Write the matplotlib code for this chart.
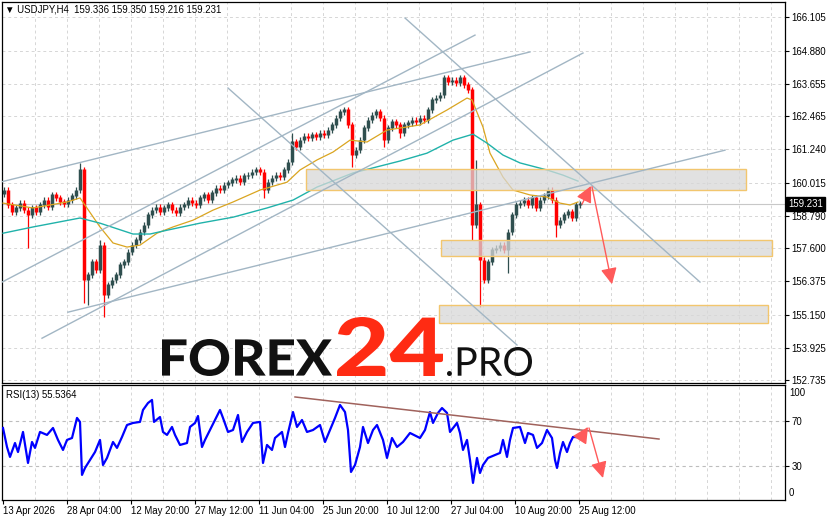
import matplotlib
matplotlib.use('Agg')
import matplotlib.pyplot as plt
from matplotlib.textpath import TextPath
from matplotlib.patches import PathPatch, Rectangle
from matplotlib.font_manager import FontProperties
from matplotlib.transforms import Affine2D

plt.rcParams['font.family'] = ['Liberation Sans', 'DejaVu Sans']

W, H = 831, 521

# один бар H4 = один пиксель по X; цены закрытия сняты каждые 4 бара
bar_x = list(range(4, 581, 4))
first_open = 159.60
closes = [
    159.74, 159.19, 158.93, 159.08, 159.26, 159.00, 158.82, 159.08, 158.93, 159.19,
    159.37, 159.11, 159.56, 159.45, 159.30, 159.22, 159.37, 159.52, 159.74, 160.48,
    156.42, 156.61, 157.09, 156.79, 157.71, 155.87, 156.24, 156.42, 156.61, 156.98,
    157.09, 157.45, 157.71, 157.90, 158.19, 158.45, 158.82, 159.00, 159.11, 158.93,
    159.08, 159.19, 159.00, 158.89, 159.11, 159.19, 159.37, 159.26, 159.19, 159.45,
    159.56, 159.37, 159.63, 159.81, 159.74, 159.92, 160.00, 160.11, 160.18, 160.03,
    160.26, 160.29, 160.40, 160.48, 160.40, 159.74, 160.03, 160.18, 160.29, 160.22,
    160.48, 160.77, 161.51, 161.32, 161.58, 161.73, 161.66, 161.77, 161.69, 161.84,
    161.77, 161.95, 162.14, 162.39, 162.62, 162.69, 162.14, 161.03, 161.21, 161.58,
    162.03, 162.32, 162.50, 162.62, 162.39, 161.58, 162.03, 162.25, 162.14, 161.84,
    162.14, 162.21, 162.32, 162.25, 162.39, 162.32, 162.69, 163.06, 163.13, 163.24,
    163.87, 163.72, 163.79, 163.68, 163.87, 163.61, 163.43, 158.45, 159.19, 157.16,
    156.42, 157.09, 157.53, 157.60, 157.71, 157.53, 158.19, 158.82, 159.19, 159.26,
    159.37, 159.19, 159.45, 159.08, 159.37, 159.52, 159.74, 159.37, 158.45, 158.63,
    158.82, 158.93, 158.71, 159.19, 159.23,
]
# заметные тени свечей
spike_x = [28, 80, 84, 88, 100, 104, 264, 292, 344, 352, 384, 400, 444, 472, 476, 480, 508, 556]
spike_px = [157.60, 160.73, 155.57, 155.50, 157.90, 155.06, 159.45, 161.84, 162.80, 160.59,
            161.32, 161.66, 163.98, 157.90, 160.85, 155.43, 156.68, 158.01]

# скользящие средние
ma_fast_x = [3, 33, 67, 80, 100, 113, 127, 140, 157, 173, 193, 213, 233, 260, 287, 300, 317,
             333, 350, 367, 387, 420, 447, 467, 472, 483, 490, 503, 513, 530, 547, 560, 570, 578]
ma_fast = [159.26, 159.08, 159.30, 159.45, 158.38, 157.79, 157.64, 157.71, 158.15, 158.38,
           158.63, 159.00, 159.30, 159.74, 160.03, 160.48, 160.85, 161.14, 161.58, 161.51,
           161.95, 162.14, 162.69, 163.13, 163.06, 162.06, 161.10, 160.22, 159.74, 159.56,
           159.48, 159.26, 159.19, 159.30]
ma_slow_x = [3, 33, 80, 100, 133, 150, 167, 200, 233, 267, 293, 317, 353, 400, 427, 453, 473,
             487, 503, 520, 547, 563, 578]
ma_slow = [158.15, 158.38, 158.71, 158.52, 158.12, 158.12, 158.26, 158.52, 158.74, 159.08,
           159.37, 159.85, 160.37, 160.81, 161.10, 161.58, 161.80, 161.47, 161.03, 160.74,
           160.48, 160.29, 160.07]

# RSI(13)
rsi_x = [3, 7, 10, 15, 18, 23, 28, 32, 35, 40, 47, 53, 58, 63, 67, 72, 77, 80, 82, 85,
         90, 95, 100, 103, 107, 113, 117, 122, 127, 133, 140, 143, 148, 152, 154, 160, 163, 167,
         172, 175, 180, 187, 190, 195, 198, 202, 205, 210, 215, 220, 223, 228, 233, 238, 242,
         247, 253, 260, 263, 267, 272, 275, 282, 285, 288, 293, 297, 302, 307, 313, 320, 325,
         330, 335, 340, 345, 348, 351, 355, 360, 363, 368, 373, 377, 383, 387, 392, 397, 403,
         410, 420, 425, 430, 433, 438, 442, 447, 450, 457, 460, 463, 467, 470, 473, 477, 480,
         483, 488, 495, 500, 503, 507, 510, 513, 520, 525, 528, 533, 537, 542, 547, 552, 555,
         557, 560, 563, 567, 570, 573, 578]
rsi_vals = [63.6, 46.9, 38.2, 50.4, 42.5, 60.1, 32.9, 51.3, 46.1, 60.1, 57.5, 63.6, 53.1, 44.3,
            53.1, 54.8, 72.4, 68.9, 22.4, 28.5, 35.5, 42.5, 53.1, 31.1, 37.3, 51.3, 46.1, 55.7,
            66.2, 68.0, 68.9, 79.4, 85.5, 88.2, 68.9, 73.2, 60.1, 57.5, 64.5, 57.5, 48.7, 50.4,
            64.5, 68.0, 74.1, 46.9, 53.1, 61.8, 70.6, 79.4, 72.4, 60.1, 61.8, 75.0, 51.3, 60.1,
            68.0, 68.9, 32.9, 48.7, 44.3, 54.8, 60.1, 46.9, 59.2, 77.6, 64.5, 70.6, 60.1, 61.8,
            66.2, 51.3, 61.8, 72.4, 83.8, 77.6, 61.8, 25.0, 31.1, 46.9, 64.5, 50.4, 61.8, 66.2,
            53.1, 37.3, 54.8, 46.9, 51.3, 59.2, 54.8, 61.8, 77.6, 68.0, 76.8, 81.1, 76.8, 60.1,
            68.0, 59.2, 44.3, 53.1, 35.5, 15.4, 37.3, 24.1, 31.1, 37.3, 39.9, 41.7, 53.1, 38.2,
            53.1, 63.6, 64.5, 50.4, 59.2, 57.5, 46.1, 50.4, 61.8, 54.8, 35.5, 28.5, 41.7, 51.3,
            42.5, 50.4, 55.7, 55.5]

# оси
price_ticks = [166.105, 164.880, 163.655, 162.465, 161.240, 160.015, 158.790,
               157.600, 156.375, 155.150, 153.925, 152.735]
date_ticks = [3, 67, 131, 195, 259, 323, 387, 451, 515, 579]
date_labels = ['13 Apr 2026', '28 Apr 04:00', '12 May 20:00', '27 May 12:00', '11 Jun 04:00',
               '25 Jun 20:00', '10 Jul 12:00', '27 Jul 04:00', '10 Aug 20:00', '25 Aug 12:00']
last_price = 159.231

# разметка: зоны и трендовые линии
zone_x0 = [306, 441, 439]
zone_x1 = [746, 772, 768]
zone_lo = [159.74, 157.31, 154.84]
zone_hi = [160.51, 157.90, 155.50]
tl_x0 = [0, 0, 42, 68, 228, 405]
tl_p0 = [160.03, 156.31, 154.28, 155.24, 163.50, 166.08]
tl_x1 = [530, 475, 583, 725, 517, 700]
tl_p1 = [164.83, 165.45, 164.79, 161.21, 154.03, 156.35]

BULL = '#2F4F4F'
BEAR = '#FF0000'
TL = '#A2B6C4'
ARROW = '#FF5A5A'
GRID = '#D6D6D6'
FS = 6.9

fig = plt.figure(figsize=(W / 100, H / 100), dpi=100)
ax = fig.add_axes([2 / W, 1 - 383 / H, 783 / W, 381 / H])
rax = fig.add_axes([2 / W, 1 - 500 / H, 783 / W, 115 / H])

for a in (ax, rax):
    a.set_xlim(2, 785)
    for s in a.spines.values():
        s.set_linewidth(0.9)
        s.set_color('black')
    for gx in range(35, 785, 32):
        a.axvline(gx, color=GRID, lw=0.7, ls=(0, (3, 3)), zorder=0)

ax.set_ylim(152.63, 166.67)
for p in price_ticks:
    ax.axhline(p, color=GRID, lw=0.7, ls=(0, (3, 3)), zorder=0)
ax.yaxis.tick_right()
ax.set_yticks(price_ticks)
ax.set_yticklabels([f'{p:.3f}' for p in price_ticks])
ax.tick_params(axis='y', length=3, width=0.8, pad=1.5, labelsize=FS)
ax.set_xticks([])

# текущая цена
ax.axhline(last_price, color='#C8C8C8', lw=0.8, zorder=1)
ax.text(788, last_price, f'{last_price:.3f}', color='white', fontsize=FS, va='center',
        ha='left', clip_on=False,
        bbox=dict(boxstyle='square,pad=0.18', fc='black', ec='black'))

# водяной знак FOREX24.PRO
def fit_word(target, s, box, color, weight, family='Lato'):
    fp = FontProperties(family=family, weight=weight)
    tp = TextPath((0, 0), s, prop=fp, size=100)
    ext = tp.get_extents()
    x0, y0, x1, y1 = box
    tr = (Affine2D().translate(-ext.x0, -ext.y0)
          .scale((x1 - x0) / ext.width, (y1 - y0) / ext.height)
          .translate(x0, H - y1))
    patch = PathPatch(tp, transform=tr, facecolor=color, edgecolor='none', zorder=1.5)
    target.add_patch(patch)

fit_word(ax, 'FOREX', (162, 339, 332, 376), '#111111', 'black')
fit_word(ax, '24', (337, 317, 443, 376), '#FF2B13', 'black')
fit_word(ax, '.PRO', (447, 347, 532, 376), '#111111', 'normal')

# свечи
opens = [first_open] + closes[:-1]
spikes = dict(zip(spike_x, spike_px))
for x, o, c in zip(bar_x, opens, closes):
    hi = max(o, c) + 0.12
    lo = min(o, c) - 0.12
    if x in spikes:
        hi = max(hi, spikes[x])
        lo = min(lo, spikes[x])
    col = BULL if c >= o else BEAR
    ax.vlines(x, lo, hi, color=col, lw=0.9, zorder=2)
    ax.vlines(x, min(o, c), max(o, c) + 0.02, color=col, lw=2.5, zorder=2)

ax.plot(ma_fast_x, ma_fast, color='#DAA520', lw=0.9, zorder=3)
ax.plot(ma_slow_x, ma_slow, color='#20B2AA', lw=1.0, zorder=3)

for x0, x1, lo, hi in zip(zone_x0, zone_x1, zone_lo, zone_hi):
    ax.add_patch(Rectangle((x0, lo), x1 - x0, hi - lo, facecolor='#D8D8D8', alpha=0.75,
                           edgecolor='none', zorder=4))
    ax.add_patch(Rectangle((x0, lo), x1 - x0, hi - lo, facecolor='none',
                           edgecolor='#F2C66E', lw=1.0, zorder=4))

for x0, p0, x1, p1 in zip(tl_x0, tl_p0, tl_x1, tl_p1):
    ax.plot([x0, x1], [p0, p1], color=TL, lw=1.0, zorder=5)

arrow = dict(arrowstyle='-|>,head_length=0.7,head_width=0.35', color=ARROW, lw=1.0,
             shrinkA=0, shrinkB=0, mutation_scale=14)
ax.annotate('', xy=(591, 159.89), xytext=(582, 159.22), arrowprops=arrow, zorder=6)
ax.annotate('', xy=(612, 156.27), xytext=(592, 159.86), arrowprops=arrow, zorder=6)

fig.text(5 / W, 1 - 9 / H, '\u25bc USDJPY,H4  159.336 159.350 159.216 159.231',
         fontsize=FS, va='center', ha='left')

# панель RSI
rax.set_ylim(0.4, 101.3)
for lv in (70, 30):
    rax.axhline(lv, color='#BDBDBD', lw=0.8, ls=(0, (3, 3)), zorder=0)
rax.plot(rsi_x, rsi_vals, color='#0000FF', lw=1.6, zorder=3)
rax.plot([295, 659], [90.8, 53.9], color='#A0625C', lw=1.1, zorder=4)
rax.annotate('', xy=(588, 64.5), xytext=(581, 54.8), arrowprops=arrow, zorder=6)
rax.annotate('', xy=(603, 19.7), xytext=(589, 63.6), arrowprops=arrow, zorder=6)
rax.yaxis.tick_right()
rax.set_yticks([70, 30])
rax.set_yticklabels(['70', '30'])
rax.tick_params(axis='y', length=3, width=0.8, pad=1.5, labelsize=FS)
rax.text(789, 94.6, '100', fontsize=FS, va='center', ha='left', clip_on=False)
rax.text(789, 6.3, '0', fontsize=FS, va='center', ha='left', clip_on=False)
fig.text(6 / W, 1 - 395 / H, 'RSI(13) 55.5364', fontsize=FS, va='center', ha='left')

rax.set_xticks(date_ticks)
rax.set_xticklabels(date_labels)
rax.tick_params(axis='x', length=3, width=0.8, pad=1.5, labelsize=FS)
for lab in rax.get_xticklabels():
    lab.set_ha('left')

fig.savefig('out.png', dpi=100)
